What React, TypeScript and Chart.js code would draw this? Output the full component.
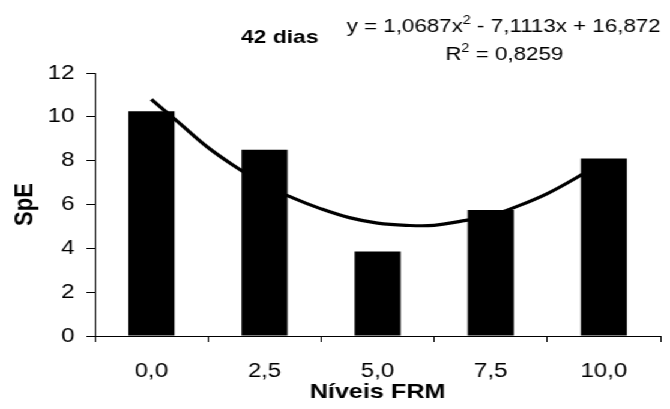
import React, { useEffect, useRef } from "react";
import { Chart, registerables } from "chart.js";

Chart.register(...registerables);

// ---- data ----
const categories = ["0,0", "2,5", "5,0", "7,5", "10,0"];
const speValues = [10.25, 8.5, 3.85, 5.75, 8.1];
// trend curve (x in category units, 1 = first bar)
const trendX = [1, 1.25, 1.5, 1.75, 2, 2.25, 2.5, 2.75, 3, 3.25, 3.5, 3.75, 4, 4.25, 4.5, 4.75, 5];
const trendY = [10.8, 9.7, 8.6, 7.7, 6.9, 6.3, 5.8, 5.4, 5.15, 5.05, 5.05, 5.25, 5.5, 5.95, 6.5, 7.2, 8.0];
const yMin = 0;
const yMax = 12;
const yStep = 2;
const chartTitle = "42 dias";
const xTitle = "Níveis FRM";
const yTitle = "SpE";
const equationParts = [
  { t: "y = 1,0687x", sup: false },
  { t: "2", sup: true },
  { t: " - 7,1113x + 16,872", sup: false },
];
const r2Parts = [
  { t: "R", sup: false },
  { t: "2", sup: true },
  { t: " = 0,8259", sup: false },
];

// ---- rendering ----
const FONT = '"Liberation Sans", Arial, Helvetica, sans-serif';
const W = 558;
const H = 409;
const SX = 670 / W;

function drawParts(ctx: CanvasRenderingContext2D, parts: { t: string; sup: boolean }[], cx: number, baseline: number, size: number) {
  const supSize = Math.round(size * 0.62);
  let total = 0;
  const widths = parts.map((p) => {
    ctx.font = `${p.sup ? supSize : size}px ${FONT}`;
    const w = ctx.measureText(p.t).width;
    total += w;
    return w;
  });
  let x = cx - total / 2;
  parts.forEach((p, i) => {
    ctx.font = `${p.sup ? supSize : size}px ${FONT}`;
    ctx.fillText(p.t, x, p.sup ? baseline - size * 0.42 : baseline);
    x += widths[i];
  });
}

const textPlugin = {
  id: "chartTexts",
  afterDraw(chart: any) {
    const ctx: CanvasRenderingContext2D = chart.ctx;
    ctx.save();
    ctx.fillStyle = "#000";
    ctx.textBaseline = "alphabetic";
    ctx.textAlign = "left";
    ctx.font = `bold 19px ${FONT}`;
    const tw = ctx.measureText(chartTitle).width;
    ctx.fillText(chartTitle, 233 - tw / 2, 42.5);
    drawParts(ctx, equationParts, 419.5, 31.5, 18.6);
    drawParts(ctx, r2Parts, 420, 60, 18.6);
    ctx.restore();
  },
};

export default function App() {
  const canvasRef = useRef<HTMLCanvasElement | null>(null);

  useEffect(() => {
    const canvas = canvasRef.current;
    if (!canvas) return;
    const chart = new Chart(canvas, {
      type: "bar",
      data: {
        labels: categories,
        datasets: [
          {
            type: "bar",
            label: "SpE",
            xAxisID: "x",
            yAxisID: "y",
            data: speValues,
            backgroundColor: "#000",
            borderWidth: 0,
            grouped: false,
            categoryPercentage: 1,
            barPercentage: 0.407,
            order: 1,
          } as any,
          {
            type: "line",
            label: "trend",
            xAxisID: "xLine",
            yAxisID: "y",
            data: trendX.map((x, i) => ({ x, y: trendY[i] })),
            borderColor: "#000",
            borderWidth: 3.2,
            pointRadius: 0,
            tension: 0.4,
            fill: false,
            order: 2,
          } as any,
        ],
      },
      options: {
        responsive: false,
        animation: false,
        devicePixelRatio: 1,
        layout: { padding: { top: 73, right: 8, bottom: 0, left: 0 } },
        plugins: {
          legend: { display: false },
          tooltip: { enabled: false },
          title: { display: false },
        },
        scales: {
          x: {
            type: "category",
            offset: true,
            ticks: { color: "#000", font: { size: 20, family: FONT }, padding: 17, maxRotation: 0 },
            grid: { offset: true, drawOnChartArea: false, drawTicks: true, tickLength: 6, color: "#000", lineWidth: 1 },
            border: { display: true, color: "#000", width: 1 },
            title: {
              display: true,
              text: xTitle,
              color: "#000",
              font: { size: 21, weight: "bold", family: FONT },
              padding: { top: 0, bottom: 4 },
            },
            afterFit: (s: any) => {
              s.height = 73;
            },
          },
          xLine: {
            type: "linear",
            display: false,
            offset: false,
            bounds: "data",
            min: 0.5,
            max: categories.length + 0.5,
            grid: { offset: false },
          },
          y: {
            min: yMin,
            max: yMax,
            ticks: {
              stepSize: yStep,
              color: "#000",
              font: { size: 20, family: FONT },
              padding: 10,
              callback: (v: any) => String(v),
            },
            grid: { drawOnChartArea: false, drawTicks: true, tickLength: 7, color: "#000", lineWidth: 1 },
            border: { display: true, color: "#000", width: 1 },
            title: {
              display: true,
              text: yTitle,
              color: "#000",
              font: { size: 22, weight: "bold", family: FONT },
              padding: { top: 8, bottom: 0 },
            },
            afterFit: (s: any) => {
              s.width = 79;
            },
          },
        } as any,
      },
      plugins: [textPlugin],
    });
    return () => chart.destroy();
  }, []);

  return (
    <div
      style={{
        position: "absolute",
        left: 0,
        top: 0,
        width: W,
        height: H,
        transform: `scaleX(${SX})`,
        transformOrigin: "0 0",
        background: "#fff",
      }}
    >
      <canvas ref={canvasRef} width={W} height={H} style={{ display: "block", width: W, height: H }} />
    </div>
  );
}
